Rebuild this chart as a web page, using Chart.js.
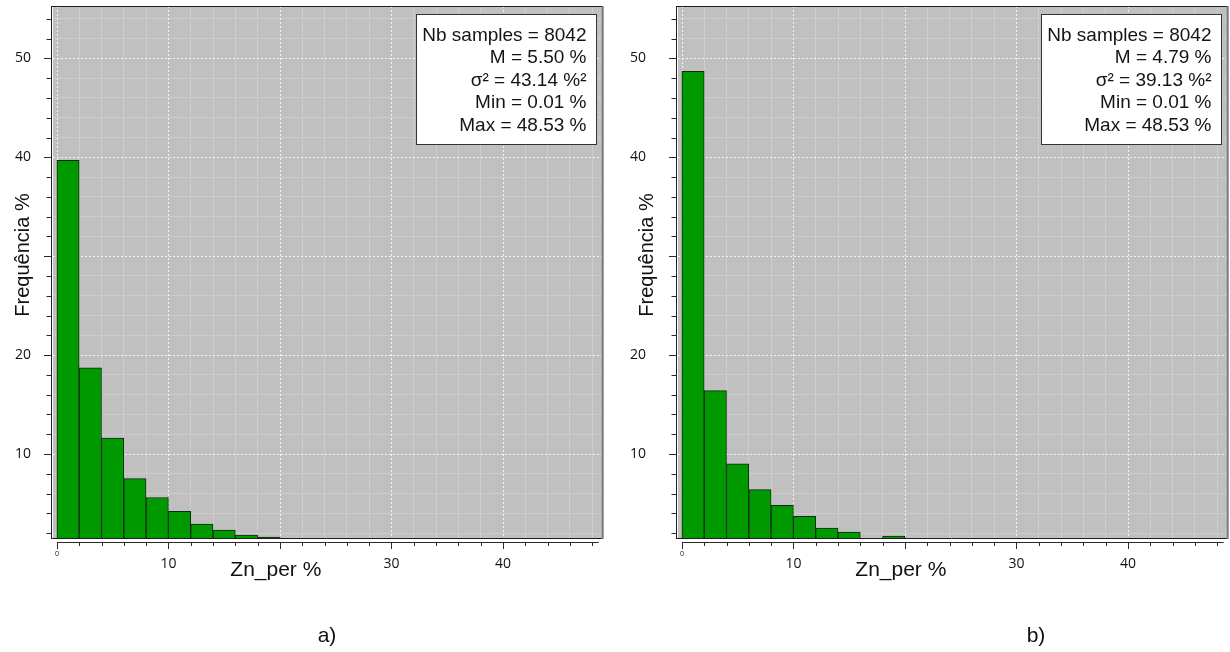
<!DOCTYPE html>
<html>
<head>
<meta charset="utf-8">
<script src="https://cdn.jsdelivr.net/npm/chart.js@4.4.1/dist/chart.umd.min.js"></script>
<style>
  html, body { margin: 0; padding: 0; background: #fff; }
  .panel { position: absolute; top: 0; width: 615px; height: 652px; }
  #panelA { left: 0; }
  #panelB { left: 615px; }
</style>
</head>
<body>
<div class="panel" id="panelA"><canvas id="chartA" width="615" height="652"></canvas></div>
<div class="panel" id="panelB"><canvas id="chartB" width="615" height="652"></canvas></div>
<script>
// histogram bins (Zn_per %), bin width 2
const binStarts = [0, 2, 4, 6, 8, 10, 12, 14, 16, 18];
const binWidth = 2;
// frequency % (bins under the axis floor are not visible)
const freqA = [39.7, 18.7, 11.6, 7.5, 5.6, 4.2, 2.9, 2.3, 1.8, 1.6];
const freqB = [48.7, 16.4, 9.0, 6.4, 4.8, 3.7, 2.5, 2.1, null, 1.7];

const statsA = ["Nb samples = 8042", "M = 5.50 %", "σ² = 43.14 %²", "Min = 0.01 %", "Max = 48.53 %"];
const statsB = ["Nb samples = 8042", "M = 4.79 %", "σ² = 39.13 %²", "Min = 0.01 %", "Max = 48.53 %"];

const xTickLabels = [0, 10, 30, 40];
const yTickLabels = [10, 20, 40, 50];
const xRange = [-0.35, 48.95];
const yRange = [1.5, 55.3];

const xTitle = "Zn_per %";
const yTitle = "Frequência %";

const decor = {
  id: "decor",
  beforeDraw(chart) {
    const { ctx, chartArea: a } = chart;
    ctx.save();
    ctx.fillStyle = "#c0c0c0";
    ctx.fillRect(a.left, a.top, a.right - a.left, a.bottom - a.top);
    ctx.restore();
  },
  beforeDatasetsDraw(chart) {
    // dotted white major grid lines
    const { ctx, chartArea: a, scales: { x, y } } = chart;
    ctx.save();
    ctx.strokeStyle = "#f4f4f4";
    ctx.lineWidth = 1;
    ctx.setLineDash([2, 2]);
    ctx.beginPath();
    x.ticks.forEach(t => {
      if (t.value % 10 !== 0) return;
      const px = Math.round(x.getPixelForValue(t.value)) + 0.5;
      ctx.moveTo(px, a.top); ctx.lineTo(px, a.bottom);
    });
    y.ticks.forEach(t => {
      if (t.value % 10 !== 0) return;
      const py = Math.round(y.getPixelForValue(t.value)) + 0.5;
      ctx.moveTo(a.left, py); ctx.lineTo(a.right, py);
    });
    ctx.stroke();
    ctx.restore();
  },
  afterDraw(chart, args, opts) {
    const { ctx, chartArea: a, scales: { x, y } } = chart;
    ctx.save();

    // frame
    ctx.lineWidth = 1;
    ctx.strokeStyle = "#1e1e1e";
    ctx.beginPath();
    ctx.moveTo(a.left - 2, a.top + 0.5); ctx.lineTo(a.right, a.top + 0.5);
    ctx.moveTo(a.left - 1.5, a.top); ctx.lineTo(a.left - 1.5, a.bottom + 0.5);
    ctx.moveTo(a.left - 2, a.bottom + 0.5); ctx.lineTo(a.right, a.bottom + 0.5);
    ctx.stroke();
    ctx.strokeStyle = "#7a7a7a";
    ctx.lineWidth = 2;
    ctx.beginPath();
    ctx.moveTo(a.right, a.top); ctx.lineTo(a.right, a.bottom + 1);
    ctx.stroke();

    // y tick marks
    ctx.lineWidth = 1;
    ctx.strokeStyle = "#2a2a2a";
    ctx.beginPath();
    y.ticks.forEach(t => {
      const py = Math.round(y.getPixelForValue(t.value)) + 0.5;
      const len = t.value % 10 === 0 ? 7 : 4.5;
      ctx.moveTo(a.left - 2 - len, py); ctx.lineTo(a.left - 2, py);
    });
    // x axis line and tick marks
    const axisY = a.bottom + 4;
    ctx.moveTo(x.getPixelForValue(0), axisY + 0.5);
    ctx.lineTo(a.right - 4, axisY + 0.5);
    x.ticks.forEach(t => {
      const px = Math.round(x.getPixelForValue(t.value)) + 0.5;
      const len = t.value % 10 === 0 ? 7 : 4;
      ctx.moveTo(px, axisY); ctx.lineTo(px, axisY + len);
    });
    ctx.stroke();

    // stats box
    const bw = 180, bh = 130;
    const bx = a.right - 6.5 - bw, by = a.top + 8.3;
    ctx.fillStyle = "#ffffff";
    ctx.fillRect(bx, by, bw, bh);
    ctx.strokeStyle = "#333";
    ctx.strokeRect(Math.round(bx) + 0.5, Math.round(by) + 0.5, bw, bh);
    ctx.fillStyle = "#141414";
    ctx.font = "19px 'Liberation Sans', Arial, sans-serif";
    ctx.textAlign = "right";
    ctx.textBaseline = "alphabetic";
    opts.stats.forEach((line, i) => {
      ctx.fillText(line, bx + bw - 9.7, by + 26.4 + i * 22.5);
    });

    // axis titles
    ctx.fillStyle = "#111";
    ctx.font = "21px 'Liberation Sans', Arial, sans-serif";
    ctx.textAlign = "center";
    ctx.fillText(xTitle, (a.left + a.right) / 2 - 52, 576);
    ctx.save();
    ctx.translate(opts.yTitleX, 255);
    ctx.rotate(-Math.PI / 2);
    ctx.font = "20px 'Liberation Sans', Arial, sans-serif";
    ctx.fillText(yTitle, 0, 0);
    ctx.restore();

    // panel caption
    ctx.font = "21px 'Liberation Sans', Arial, sans-serif";
    ctx.fillText(opts.caption, opts.captionX, 642);
    ctx.restore();
  }
};

const tickFont = { family: "'Open Sans', sans-serif", size: 14 };

function makeChart(id, freq, stats, yWidth, rightPad, yTitleX, caption, captionX) {
  return new Chart(document.getElementById(id), {
    type: "bar",
    data: {
      datasets: [{
        data: binStarts.map((b, i) => ({ x: b + binWidth / 2, y: freq[i] })),
        backgroundColor: "#009a00",
        borderColor: "#0c2a0c",
        borderWidth: 1,
        borderSkipped: false,
        categoryPercentage: 1,
        barPercentage: 1,
        clip: 0
      }]
    },
    options: {
      responsive: false,
      animation: false,
      devicePixelRatio: 1,
      layout: { padding: { top: 6, right: rightPad, left: 0, bottom: 0 } },
      plugins: {
        legend: { display: false },
        tooltip: { enabled: false },
        decor: { stats, yTitleX, caption, captionX }
      },
      scales: {
        x: {
          type: "linear",
          min: xRange[0],
          max: xRange[1],
          offset: false,
          grid: {
            offset: false,
            drawTicks: true,
            tickLength: 11,
            tickColor: "rgba(0,0,0,0)",
            color: ctx => ctx.tick && ctx.tick.value % 10 === 0 ? "rgba(0,0,0,0)" : "#cdcdcd"
          },
          border: { display: false },
          ticks: {
            stepSize: 2,
            includeBounds: false,
            autoSkip: false,
            maxRotation: 0,
            padding: 0,
            color: "#111",
            callback: v => xTickLabels.includes(v) ? String(v) : "",
            font: ctx => ctx.tick && ctx.tick.value === 0
              ? { family: tickFont.family, size: 7, lineHeight: "10px" }
              : { family: tickFont.family, size: 14, lineHeight: "30px" }
          },
          afterFit: s => { s.height = 114; }
        },
        y: {
          type: "linear",
          min: yRange[0],
          max: yRange[1],
          grid: {
            drawTicks: true,
            tickLength: yWidth - 31,
            tickColor: "rgba(0,0,0,0)",
            color: ctx => ctx.tick && ctx.tick.value % 10 === 0 ? "rgba(0,0,0,0)" : "#cdcdcd"
          },
          border: { display: false },
          ticks: {
            stepSize: 2,
            includeBounds: false,
            autoSkip: false,
            padding: 0,
            color: "#111",
            font: tickFont,
            callback: v => yTickLabels.includes(v) ? String(v) : ""
          },
          afterFit: s => { s.width = yWidth; s.paddingTop = 0; s.paddingBottom = 0; }
        }
      }
    },
    plugins: [decor]
  });
}

makeChart("chartA", freqA, statsA, 53, 12.3, 29, "a)", 327);
makeChart("chartB", freqB, statsB, 63, 2.3, 38, "b)", 421);
</script>
</body>
</html>
